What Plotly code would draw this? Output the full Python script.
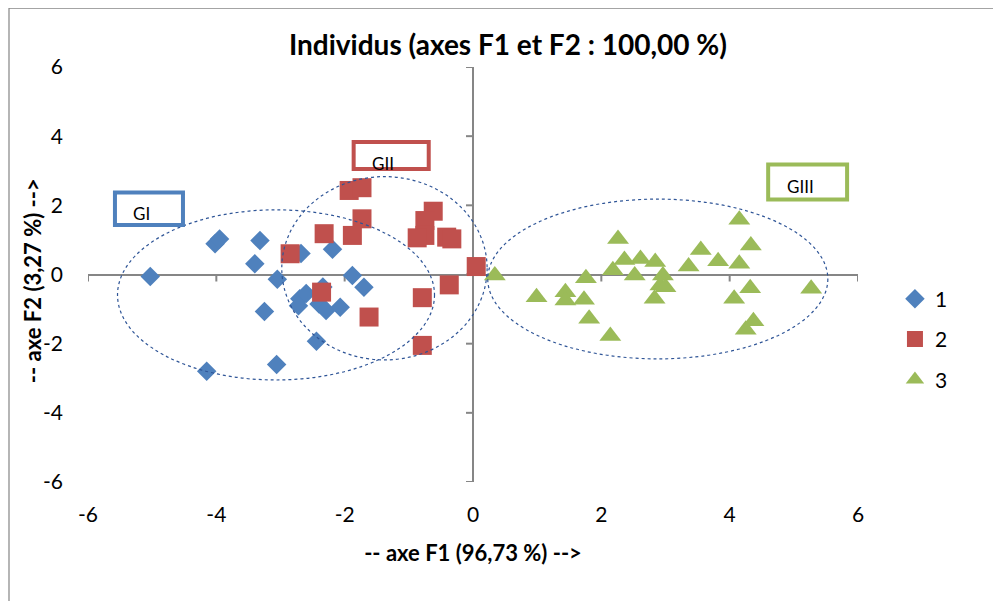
import plotly.graph_objects as go

# ---- data ----
g1_x = [-5.03, -4.02, -3.95, -3.32, -3.40, -3.25, -4.15, -3.06, -3.05, -2.68,
        -2.19, -2.44, -2.70, -2.72, -2.60, -2.34, -2.40, -2.29, -2.07, -1.88, -1.70]
g1_y = [-0.06, 0.89, 1.03, 0.98, 0.31, -1.07, -2.80, -2.60, -0.14, 0.61,
        0.73, -1.93, -0.70, -0.90, -0.55, -0.36, -0.85, -1.04, -0.95, -0.03, -0.37]

g2_x = [-2.85, -1.93, -1.73, -1.73, -2.32, -1.88, -0.62, -0.75, -0.75, -0.87,
        -0.41, -0.33, 0.05, -0.37, -0.79, -2.36, -1.62, -0.79]
g2_y = [0.60, 2.43, 2.51, 1.61, 1.18, 1.13, 1.83, 1.56, 1.13, 1.06,
        1.08, 1.03, 0.23, -0.30, -0.67, -0.51, -1.23, -2.05]

g3_x = [0.34, 0.99, 1.44, 1.44, 1.76, 1.73, 1.81, 2.14, 2.26, 2.18,
        2.36, 2.52, 2.61, 2.84, 2.96, 2.92, 3.00, 2.83, 3.36, 3.55,
        3.82, 4.15, 4.33, 4.15, 4.32, 4.07, 4.37, 4.25, 5.27]
g3_y = [-0.03, -0.66, -0.51, -0.75, -0.11, -0.73, -1.28, -1.78, 1.03, 0.12,
        0.42, -0.03, 0.45, 0.36, -0.03, -0.32, -0.37, -0.70, 0.23, 0.71,
        0.38, 1.58, 0.84, 0.31, -0.40, -0.70, -1.35, -1.60, -0.41]

series_names = ["1", "2", "3"]
tick_vals = [-6, -4, -2, 0, 2, 4, 6]
tick_text = ["-6", "-4", "-2", "0", "2", "4", "6"]

# group ellipses: centre x, centre y, radius x, radius y
ell_cx = [-3.07, -1.38, 2.88]
ell_cy = [-0.59, 0.18, -0.13]
ell_rx = [2.47, 1.60, 2.65]
ell_ry = [2.46, 2.65, 2.31]

# group label boxes
grp_labels = ["GI", "GII", "GIII"]
box_x0 = [-5.58, -1.86, 4.60]
box_x1 = [-4.52, -0.69, 5.83]
box_y0 = [1.43, 3.05, 2.17]
box_y1 = [2.37, 3.83, 3.18]
lab_x = [-5.17, -1.41, 5.10]
lab_y = [1.75, 3.21, 2.54]

colors = ["#4F81BD", "#C0504D", "#9BBB59"]
symbols = ["diamond", "square", "triangle-up"]
sizes = [15, 19, 19]
FONT = "Lato, Carlito, Calibri, sans-serif"

fig = go.Figure()
for i, (xs, ys) in enumerate([(g1_x, g1_y), (g2_x, g2_y), (g3_x, g3_y)]):
    fig.add_trace(go.Scatter(
        x=xs, y=ys, mode="markers", name=series_names[i],
        legendgroup=series_names[i],
        marker=dict(symbol=symbols[i], size=sizes[i], color=colors[i],
                    line=dict(width=0)),
    ))

shapes = []
# outer chart frame
shapes.append(dict(type="rect", xref="paper", yref="paper",
                   x0=-0.1026, x1=1.2, y0=-0.32, y1=1.142,
                   line=dict(color="#868686", width=1.2), layer="below"))
# tick marks on the crossing axes
for t in tick_vals:
    shapes.append(dict(type="line", xref="x", yref="y", x0=t, x1=t,
                       ysizemode="pixel", yanchor=0, y0=0, y1=-7,
                       line=dict(color="#868686", width=2), layer="below"))
    shapes.append(dict(type="line", xref="x", yref="y", y0=t, y1=t,
                       xsizemode="pixel", xanchor=0, x0=0, x1=-7,
                       line=dict(color="#868686", width=2), layer="below"))
# ellipses
for cx, cy, rx, ry in zip(ell_cx, ell_cy, ell_rx, ell_ry):
    shapes.append(dict(type="circle", xref="x", yref="y",
                       x0=cx - rx, x1=cx + rx, y0=cy - ry, y1=cy + ry,
                       line=dict(color="#2F5597", width=1.2, dash="dot"),
                       layer="above"))
# label boxes
for i in range(3):
    shapes.append(dict(type="rect", xref="x", yref="y",
                       x0=box_x0[i], x1=box_x1[i], y0=box_y0[i], y1=box_y1[i],
                       line=dict(color=colors[i], width=4), fillcolor="white",
                       layer="above"))

annotations = []
for i in range(3):
    annotations.append(dict(x=lab_x[i], y=lab_y[i], xref="x", yref="y",
                            text=grp_labels[i], showarrow=False,
                            font=dict(family=FONT, size=17, color="black")))
# vertical axis title
annotations.append(dict(x=-0.0727, y=0.484, xref="paper", yref="paper",
                        xanchor="center", yanchor="middle", textangle=-90,
                        text="<b>-- axe F2 (3,27 %) --></b>", showarrow=False,
                        font=dict(family=FONT, size=22, color="black")))

# the page adds an 8px body margin, so the figure is 8px smaller
fig.update_layout(
    width=993, height=593,
    margin=dict(l=80, r=143, t=59, b=119),
    paper_bgcolor="white", plot_bgcolor="white",
    font=dict(family=FONT, size=21, color="black"),
    title=dict(text="<b>Individus (axes F1 et F2 : 100,00 %)</b>",
               x=0.5035, xref="container", xanchor="center",
               y=0.9376, yref="container", yanchor="middle",
               font=dict(family=FONT, size=28, color="black")),
    xaxis=dict(range=[-6, 6], tickvals=tick_vals, ticktext=tick_text,
               showgrid=False,
               zeroline=True, zerolinecolor="#868686", zerolinewidth=2,
               showline=False, ticks="", ticklabelstandoff=18,
               tickfont=dict(size=21),
               title=dict(text="<b>-- axe F1 (96,73 %) --></b>",
                          font=dict(size=22), standoff=20)),
    yaxis=dict(range=[-6, 6], tickvals=tick_vals, ticktext=tick_text,
               showgrid=False,
               zeroline=True, zerolinecolor="#868686", zerolinewidth=2,
               showline=False, ticks="", ticklabelstandoff=24,
               tickfont=dict(size=21)),
    legend=dict(x=1.048, xanchor="left", y=0.49, yanchor="top",
                font=dict(size=21), tracegroupgap=10,
                bgcolor="rgba(0,0,0,0)"),
    shapes=shapes,
    annotations=annotations,
)

fig.write_html("out.html")
